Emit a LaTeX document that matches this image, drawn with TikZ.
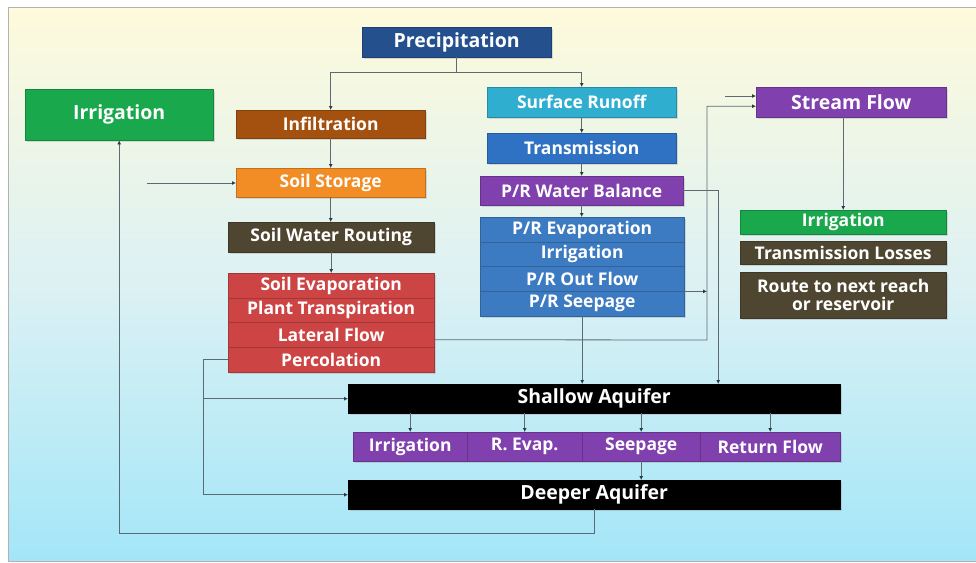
\documentclass[tikz,border=0pt]{standalone}
\usepackage{fontspec}
\setmainfont{Open Sans}
\usetikzlibrary{arrows.meta,shadows}
\definecolor{bgtop}{HTML}{FEFADB}
\definecolor{bgmid}{HTML}{DCF1F4}
\definecolor{bgbot}{HTML}{A3E6F8}
\definecolor{cprec}{HTML}{24508E}
\definecolor{cgreen}{HTML}{19A84C}
\definecolor{cinfil}{HTML}{A4500F}
\definecolor{corange}{HTML}{F28C24}
\definecolor{colive}{HTML}{4F4631}
\definecolor{cred}{HTML}{CC4444}
\definecolor{ccyan}{HTML}{30AED0}
\definecolor{ctrans}{HTML}{2F72C4}
\definecolor{cpurple}{HTML}{8040AE}
\definecolor{csteel}{HTML}{3C7AC2}
\definecolor{cline}{HTML}{5B6B73}
\definecolor{ctip}{HTML}{2B3A40}
\tikzset{
  box/.style={draw=#1!80!black, line width=0.4pt, fill=#1, text=white, inner sep=0pt, anchor=north west,
    font=\fontsize{17.5}{18}\selectfont\bfseries, align=center,
    drop shadow={shadow xshift=1.5pt, shadow yshift=-1.5pt, opacity=0.25}},
  big/.style={font=\fontsize{19.5}{20}\selectfont\bfseries},
  conn/.style={draw=cline, line width=0.8pt},
  arr/.style={conn, -{Latex[length=4pt,width=4pt,color=ctip]}},
}
\newcommand{\bx}[8][]{\node[box=#3, minimum width=#6pt-#4pt, minimum height=#7pt-#5pt, #1] (#2) at (#4,#5) {#8};}
\begin{document}
\begin{tikzpicture}[x=1pt,y=-1pt]
\useasboundingbox (0,0) rectangle (976,562);
\fill[white] (0,0) rectangle (976,562);
\shade[top color=bgtop, bottom color=bgbot, middle color=bgmid] (8,7) rectangle (976,561);
\draw[gray!60, line width=0.8pt] (976,7) -- (8,7) -- (8,561) -- (976,561);

% left column
\bx[big]{prec}{cprec}{362}{27}{551}{57}{Precipitation}
\bx[big]{irrL}{cgreen}{25}{89}{213}{140}{Irrigation}
\bx{infil}{cinfil}{236}{110}{425}{138}{Infiltration}
\bx{soilst}{corange}{236}{168}{425}{197}{Soil Storage}
\bx{swr}{colive}{228}{222}{434}{252}{Soil Water Routing}
\bx{sevap}{cred}{228}{273}{434}{298}{Soil Evaporation}
\bx{ptrans}{cred}{228}{298}{434}{322}{Plant Transpiration}
\bx{lat}{cred}{228}{322}{434}{347}{Lateral Flow}
\bx{perc}{cred}{228}{347}{434}{372}{Percolation}

% middle column
\bx{runoff}{ccyan}{487}{87}{676}{117}{Surface Runoff}
\bx{trans}{ctrans}{487}{133}{676}{163}{Transmission}
\bx{prwb}{cpurple}{480}{176}{683}{205}{P/R Water Balance}
\bx{prevap}{csteel}{480}{217}{684}{242}{P/R Evaporation}
\bx{prirr}{csteel}{480}{242}{684}{266}{Irrigation}
\bx{prout}{csteel}{480}{266}{684}{291}{P/R Out Flow}
\bx{prseep}{csteel}{480}{291}{684}{316}{P/R Seepage}

% right column
\bx[big]{stream}{cpurple}{756}{87}{946}{117}{Stream Flow}
\bx{irrR}{cgreen}{740}{210}{946}{234}{Irrigation}
\bx{tloss}{colive}{740}{241}{946}{264}{Transmission Losses}
\bx{route}{colive}{740}{272}{946}{318}{Route to next reach\\or reservoir}

% aquifers
\bx[big]{shallow}{black}{348}{384}{840}{413}{Shallow Aquifer}
\bx{aqirr}{cpurple}{353}{432}{467}{461}{Irrigation}
\bx{aqevap}{cpurple}{467}{432}{582}{461}{R. Evap.}
\bx{aqseep}{cpurple}{582}{432}{700}{461}{Seepage}
\bx{aqret}{cpurple}{700}{432}{840}{461}{Return Flow}
\bx[big]{deep}{black}{348}{480}{840}{509}{Deeper Aquifer}

% connectors
\draw[conn] (prec.south) -- ++(0,15) coordinate (pj);
\draw[arr] (pj) -| (infil.north);
\draw[arr] (pj) -| (runoff.north);
\draw[arr] (infil.south) -- (soilst.north);
\draw[arr] (soilst.south) -- (soilst.south |- swr.north);
\draw[arr] (swr.south) -- (swr.south |- sevap.north);
\coordinate (isrc) at (147,183);
\draw[arr] (isrc) -- (isrc -| soilst.west);
\draw[arr] (deep.south) -- ++(0,24) -| (irrL.south);
\draw[conn] (perc.west) -- ++(-25,0) coordinate (pc);
\draw[arr] (pc) |- (shallow.west);
\draw[arr] (pc) |- (deep.west);
\coordinate (lx) at (707,340);
\draw[arr] ([yshift=-5pt]lat.east) -- (lx) |- ([yshift=-4pt]stream.west);
\coordinate (sfree) at (725,96);
\draw[arr] (sfree) -- (sfree -| stream.west);
\draw[arr] (prout.south east) -- (prout.south east -| lx);
\draw[arr] (prwb.east) -| ([xshift=124pt]shallow.north);
\draw[arr] (runoff.south) -- (runoff.south |- trans.north);
\draw[arr] (trans.south) -- (trans.south |- prwb.north);
\draw[arr] (prwb.south) -- (prwb.south |- prevap.north);
\draw[arr] (prseep.south) -- (prseep.south |- shallow.north);
\draw[arr] (stream.south -| irrR.north) -- (irrR.north);
\draw[arr] (aqirr.north |- shallow.south) -- (aqirr.north);
\draw[arr] (aqevap.north |- shallow.south) -- (aqevap.north);
\draw[arr] (aqseep.north |- shallow.south) -- (aqseep.north);
\draw[arr] (aqret.north |- shallow.south) -- (aqret.north);
\draw[arr] (aqseep.south) -- (aqseep.south |- deep.north);
\end{tikzpicture}
\end{document}
